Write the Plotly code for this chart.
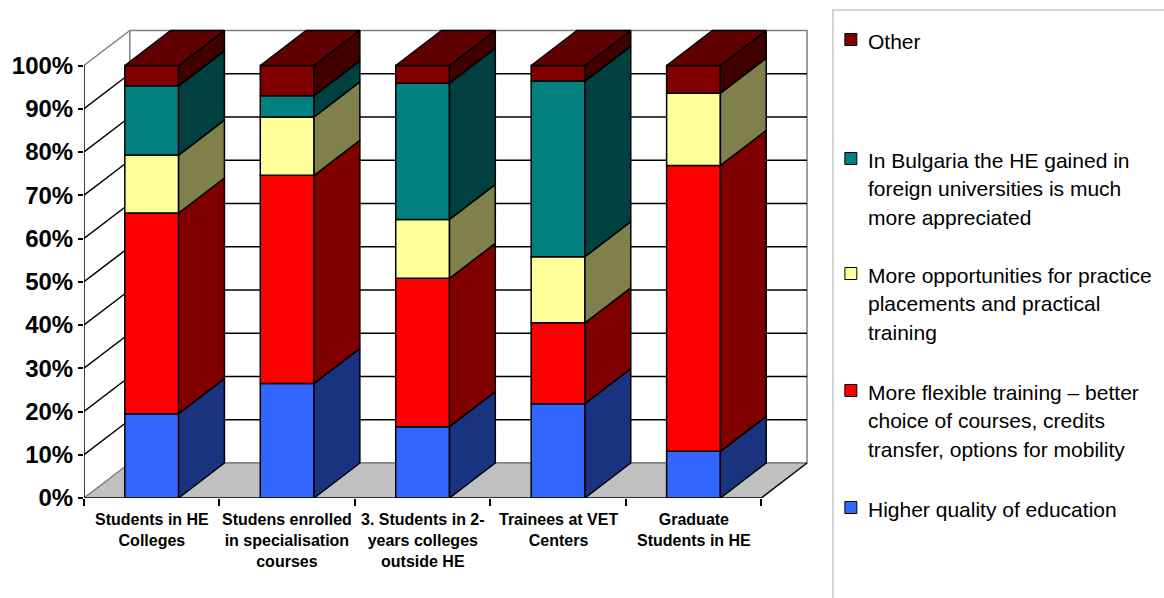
import textwrap
import plotly.graph_objects as go

# ---- data -------------------------------------------------------------
categories = [
    "Students in HE<br>Colleges",
    "Studens enrolled<br>in specialisation<br>courses",
    "3. Students in 2-<br>years colleges<br>outside HE",
    "Trainees at VET<br>Centers",
    "Graduate<br>Students in HE",
]

series_names = [
    "Higher quality of education",
    "More flexible training – better choice of courses, credits transfer, options for mobility",
    "More opportunities for practice placements and practical training",
    "In Bulgaria the HE gained in foreign universities is much more appreciated",
    "Other",
]

higher_quality = [19.5, 26.5, 16.5, 21.8, 10.8]
more_flexible = [46.4, 48.1, 34.3, 18.7, 66.1]
more_opportunities = [13.4, 13.5, 13.6, 15.3, 16.7]
foreign_he = [16.0, 4.9, 31.5, 40.6, 0.0]
other = [4.7, 7.0, 4.1, 3.6, 6.4]

y_tick_values = list(range(0, 101, 10))
y_tick_labels = [f"{v}%" for v in y_tick_values]

# ---- styling ----------------------------------------------------------
front_colors = ["#3366FF", "#FF0000", "#FFFF99", "#008080", "#800000"]
side_colors = ["#1A3380", "#800000", "#80804C", "#004040", "#400000"]
top_color = "#600000"
FONT = "Arial, Liberation Sans, sans-serif"

W, H = 1164, 598
ML, MR, MT, MB = 81, 349, 25, 100
plot_w = W - ML - MR
plot_h = H - MT - MB
CAT_PX = 136.0      # pixels per category
PCT_PX = 4.325      # pixels per percent
x_max = plot_w / CAT_PX
y_max = plot_h / PCT_PX
DX = 46 / CAT_PX    # depth offset (x, category units)
DY = 35 / PCT_PX    # depth offset (y, percent units)
BAR_W = 54 / CAT_PX
N = len(categories)


def paper_x(px):
    return (px - ML) / plot_w


def paper_y(py):
    return (H - MB - py) / plot_h


series_values = [higher_quality, more_flexible, more_opportunities, foreign_he, other]
centers = [i + 0.5 for i in range(N)]

fig = go.Figure()

# front faces
bases_running = [0.0] * N
bases_per_series = []
for s, vals in enumerate(series_values):
    bases = list(bases_running)
    bases_per_series.append(bases)
    fig.add_trace(go.Bar(
        x=centers,
        y=[v if v > 0 else None for v in vals],
        base=bases,
        width=BAR_W,
        name=series_names[s],
        marker=dict(color=front_colors[s], line=dict(color="black", width=1.5)),
        showlegend=False,
        hoverinfo="skip",
    ))
    bases_running = [b + v for b, v in zip(bases_running, vals)]

# side faces
for s, vals in enumerate(series_values):
    xs, ys = [], []
    for i, v in enumerate(vals):
        if v <= 0:
            continue
        b = bases_per_series[s][i]
        x1 = centers[i] + BAR_W / 2
        xs += [x1, x1 + DX, x1 + DX, x1, x1, None]
        ys += [b, b + DY, b + v + DY, b + v, b, None]
    fig.add_trace(go.Scatter(
        x=xs, y=ys, mode="lines", fill="toself", fillcolor=side_colors[s],
        line=dict(color="black", width=1.5), showlegend=False,
        hoverinfo="skip", cliponaxis=False,
    ))

# top faces
xs, ys = [], []
for i in range(N):
    top = bases_running[i]
    xl, xr = centers[i] - BAR_W / 2, centers[i] + BAR_W / 2
    xs += [xl, xl + DX, xr + DX, xr, xl, None]
    ys += [top, top + DY, top + DY, top, top, None]
fig.add_trace(go.Scatter(
    x=xs, y=ys, mode="lines", fill="toself", fillcolor=top_color,
    line=dict(color="black", width=1.5), showlegend=False,
    hoverinfo="skip", cliponaxis=False,
))

# ---- walls, floor and axes -------------------------------------------
shapes = []
grey = "#808080"
shapes.append(dict(type="rect", xref="x", yref="y", x0=DX, y0=DY, x1=N + DX, y1=100 + DY,
                   fillcolor="white", line=dict(color=grey, width=1.5), layer="below"))
shapes.append(dict(type="path", xref="x", yref="y",
                   path=f"M 0,0 L {N},0 L {N + DX},{DY} L {DX},{DY} Z",
                   fillcolor="#C0C0C0", line=dict(width=0), layer="below"))
shapes.append(dict(type="line", xref="x", yref="y", x0=DX, y0=DY, x1=N + DX, y1=DY,
                   line=dict(color=grey, width=1.5), layer="below"))
shapes.append(dict(type="line", xref="x", yref="y", x0=N, y0=0, x1=N + DX, y1=DY,
                   line=dict(color="black", width=1.5), layer="below"))
for k in y_tick_values:
    col = grey if k in (0, 100) else "black"
    shapes.append(dict(type="line", xref="x", yref="y", x0=0, y0=k, x1=DX, y1=k + DY,
                       line=dict(color=col, width=1.5), layer="below"))
    if 0 < k < 100:
        shapes.append(dict(type="line", xref="x", yref="y", x0=DX, y0=k + DY, x1=N + DX, y1=k + DY,
                           line=dict(color="black", width=1.5), layer="below"))
shapes.append(dict(type="line", xref="x", yref="y", x0=0, y0=0, x1=0, y1=100,
                   line=dict(color="black", width=1.5), layer="below"))
shapes.append(dict(type="line", xref="x", yref="y", x0=0, y0=0, x1=N, y1=0,
                   line=dict(color="black", width=1.5), layer="below"))

# ---- legend box ------------------------------------------------------
shapes.append(dict(type="rect", xref="paper", yref="paper",
                   x0=paper_x(833), x1=paper_x(1180), y0=paper_y(620), y1=paper_y(10),
                   line=dict(color="#C8C8C8", width=1.5), fillcolor="rgba(0,0,0,0)"))

annotations = []
for i, label in enumerate(categories):
    annotations.append(dict(
        x=centers[i], y=0, xref="x", yref="paper", yanchor="top", xanchor="center",
        yshift=-11, text=label, showarrow=False, align="center",
        font=dict(family=FONT, size=16, color="black", weight="bold"),
    ))

legend_first_line = [509, 392, 275, 160, 41]   # per series, bottom series first
LINE_PITCH = 28.5
for s in range(len(series_names)):
    cy = legend_first_line[s]
    shapes.append(dict(type="rect", xref="paper", yref="paper",
                       x0=paper_x(845), x1=paper_x(857),
                       y0=paper_y(cy + 4.5), y1=paper_y(cy - 7.5),
                       fillcolor=front_colors[s], line=dict(color="black", width=1)))
    for j, line in enumerate(textwrap.wrap(series_names[s], 31)):
        annotations.append(dict(
            x=paper_x(866), y=paper_y(cy + j * LINE_PITCH), xref="paper", yref="paper",
            xanchor="left", yanchor="middle", text=line, showarrow=False,
            font=dict(family=FONT, size=21, color="black"),
        ))

fig.update_layout(
    width=W, height=H,
    margin=dict(l=ML, r=MR, t=MT, b=MB, pad=0),
    paper_bgcolor="white", plot_bgcolor="white",
    barmode="overlay",
    shapes=shapes,
    annotations=annotations,
    showlegend=False,
    xaxis=dict(range=[0, x_max], showgrid=False, zeroline=False, showline=False,
               tickmode="array", tickvals=list(range(N + 1)), ticks="outside",
               ticklen=7, tickwidth=1.5, tickcolor="black", showticklabels=False,
               fixedrange=True),
    yaxis=dict(range=[0, y_max], showgrid=False, zeroline=False, showline=False,
               tickmode="array", tickvals=y_tick_values, ticktext=y_tick_labels,
               ticks="outside", ticklen=5, tickwidth=1.5, tickcolor="black",
               tickfont=dict(family=FONT, size=24, color="black", weight="bold"),
               fixedrange=True),
)

fig.write_html("out.html")
